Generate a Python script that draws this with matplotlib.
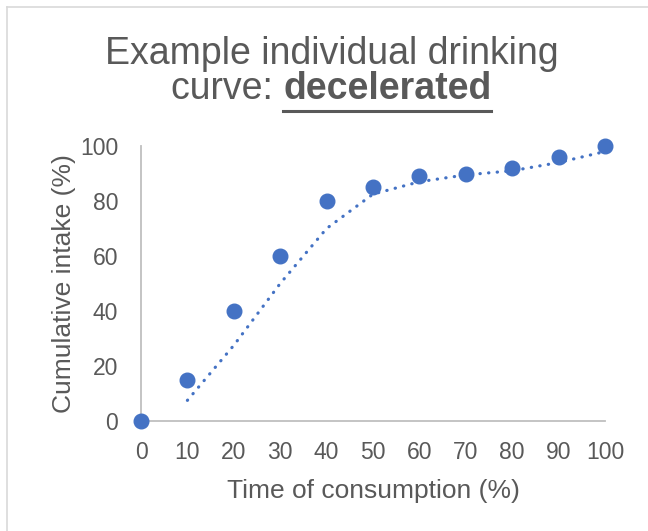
import matplotlib
matplotlib.use("Agg")
import matplotlib.pyplot as plt
from matplotlib.lines import Line2D

plt.rcParams['font.family'] = ['Liberation Sans', 'DejaVu Sans']

# data
time_pct = [0, 10, 20, 30, 40, 50, 60, 70, 80, 90, 100]
intake_pct = [0, 15, 40, 60, 80, 85, 89, 90, 92, 96, 100]

# Excel-style 2 period moving average trendline
trend_x = time_pct[1:]
trend_y = [(intake_pct[i - 1] + intake_pct[i]) / 2 for i in range(1, len(intake_pct))]

blue = "#4472C4"
grey_text = "#595959"
axis_grey = "#BFBFBF"

fig = plt.figure(figsize=(6.48, 5.31), dpi=100)
ax = fig.add_axes([0.2176, 0.2072, 0.7160, 0.5178])

ax.plot(trend_x, trend_y, linestyle=(0, (0.1, 2.6)), color=blue, linewidth=2.3,
        dash_capstyle='round', zorder=2)
ax.plot(time_pct, intake_pct, 'o', color=blue, markersize=10.5, zorder=3, clip_on=False)

ax.set_xlim(0, 100)
ax.set_ylim(0, 100)
ax.set_xticks(range(0, 101, 10))
ax.set_yticks(range(0, 101, 20))
for side in ['top', 'right']:
    ax.spines[side].set_visible(False)
for side in ['left', 'bottom']:
    ax.spines[side].set_color(axis_grey)
    ax.spines[side].set_linewidth(1.3)
ax.tick_params(length=0, labelsize=16.5, labelcolor=grey_text)
ax.tick_params(axis='x', pad=14.5)
ax.tick_params(axis='y', pad=16.5)
ax.set_xlabel("Time of consumption (%)", fontsize=19, color=grey_text, labelpad=11)
ax.set_ylabel("Cumulative intake (%)", fontsize=19, color=grey_text, labelpad=3)

# title: two lines, second with a bold underlined word
fig.text(0.512, 0.8795, "Example individual drinking", ha='center', va='baseline',
         fontsize=27, color=grey_text)
fig.canvas.draw()
renderer = fig.canvas.get_renderer()
part1 = fig.text(0, 0.8136, "curve: ", ha='left', va='baseline', fontsize=27, color=grey_text)
part2 = fig.text(0, 0.8136, "decelerated", ha='left', va='baseline', fontsize=27,
                 color=grey_text, fontweight='bold')
w1 = part1.get_window_extent(renderer).width
w2 = part2.get_window_extent(renderer).width
W = fig.bbox.width
start = 0.511 * W - (w1 + w2) / 2
part1.set_x(start / W)
part2.set_x((start + w1) / W)
fig.add_artist(Line2D([(start + w1) / W, (start + w1 + w2) / W], [0.791, 0.791],
                      color=grey_text, linewidth=2.2, transform=fig.transFigure))

# chart frame edges visible in the picture
fig.add_artist(Line2D([0.011, 1.0], [0.987, 0.987], color="#D9D9D9", linewidth=1.2,
                      transform=fig.transFigure))
fig.add_artist(Line2D([0.011, 0.011], [0.0, 0.987], color="#D9D9D9", linewidth=1.2,
                      transform=fig.transFigure))

fig.savefig("out.png", dpi=100)
